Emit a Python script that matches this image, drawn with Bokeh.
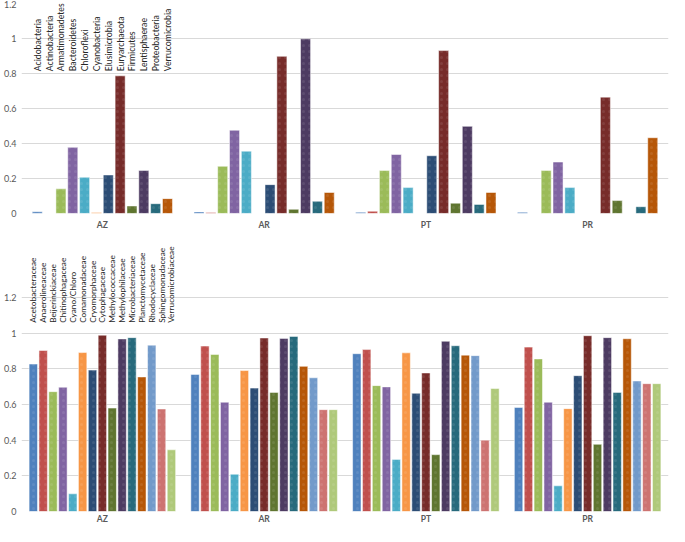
from math import pi
from bokeh.plotting import figure
from bokeh.layouts import column
from bokeh.models import ColumnDataSource, FactorRange, Range1d, FixedTicker, NumeralTickFormatter
from bokeh.transform import dodge
from bokeh.core.properties import value
from bokeh.embed import file_html
from bokeh.resources import INLINE

sites = ["AZ", "AR", "PT", "PR"]

phyla = ["Acidobacteria", "Actinobacteria", "Armatimonadetes", "Bacteroidetes",
         "Chloroflexi", "Cyanobacteria", "Elusimicrobia", "Euryarchaeota",
         "Firmicutes", "Lentisphaerae", "Proteobacteria", "Verrucomicrobia"]
az_phyla = [0.010, 0.0, 0.141, 0.378, 0.207, 0.006, 0.220, 0.787, 0.043, 0.246, 0.056, 0.085]
ar_phyla = [0.009, 0.006, 0.270, 0.476, 0.356, 0.0, 0.165, 0.898, 0.024, 0.998, 0.070, 0.120]
pt_phyla = [0.007, 0.013, 0.246, 0.337, 0.148, 0.0, 0.330, 0.931, 0.059, 0.498, 0.052, 0.120]
pr_phyla = [0.007, 0.0, 0.246, 0.294, 0.148, 0.0, 0.0, 0.665, 0.074, 0.0, 0.039, 0.433]

families = ["Acetobacteraceae", "Anaerolineaceae", "Beijerinckiaceae", "Chitinophagaceae",
            "Cyano/Chloro", "Comamonadaceae", "Cryomorphaceae", "Cytophagaceae",
            "Methylococcaceae", "Methylophilaceae", "Microbacteriaceae", "Planctomycetaceae",
            "Rhodocyclaceae", "Sphingomonadaceae", "Verrucomicrobiaceae"]
az_fam = [0.827, 0.903, 0.672, 0.697, 0.099, 0.892, 0.793, 0.989, 0.580, 0.968, 0.975, 0.755, 0.933, 0.575, 0.346]
ar_fam = [0.769, 0.928, 0.881, 0.613, 0.209, 0.791, 0.692, 0.973, 0.668, 0.971, 0.982, 0.814, 0.750, 0.571, 0.571]
pt_fam = [0.885, 0.908, 0.706, 0.699, 0.292, 0.890, 0.663, 0.777, 0.319, 0.955, 0.930, 0.877, 0.874, 0.400, 0.690]
pr_fam = [0.584, 0.922, 0.856, 0.613, 0.144, 0.577, 0.762, 0.986, 0.377, 0.975, 0.668, 0.969, 0.732, 0.717, 0.717]

yticks = [0, 0.2, 0.4, 0.6, 0.8, 1, 1.2]

palette = ["#4F81BD", "#C0504D", "#9BBB59", "#8064A2", "#4BACC6", "#F79646",
           "#2C4D75", "#772C2A", "#5F7530", "#4D3B62", "#276A7C", "#B65708",
           "#729ACA", "#CD7371", "#AFC97A"]

FONT = "Lato"
W = 669


def make_chart(names, site_vals, height, y_end, border_top, border_bottom,
               slot, bar_w, label_y, label_size):
    p = figure(x_range=FactorRange(factors=sites), y_range=Range1d(0, y_end),
               width=W, height=height, output_backend="svg", toolbar_location=None,
               min_border_left=21, min_border_right=1,
               min_border_top=border_top, min_border_bottom=border_bottom)
    p.outline_line_color = None
    p.xgrid.grid_line_color = None
    p.ygrid.grid_line_color = "#D9D9D9"
    p.yaxis.ticker = FixedTicker(ticks=yticks)
    p.yaxis.formatter = NumeralTickFormatter(format="0.[0]")
    for ax in (p.xaxis[0], p.yaxis[0]):
        ax.axis_line_color = None
        ax.major_tick_line_color = None
        ax.minor_tick_line_color = None
        ax.major_tick_out = 0
        ax.major_label_text_color = "#595959"
        ax.major_label_text_font = FONT
    p.yaxis.major_label_text_font_size = "9px"
    p.yaxis.major_label_standoff = 5
    p.xaxis.major_label_text_font_size = "8.5px"
    p.xaxis.major_label_text_font_style = "bold"
    p.xaxis.major_label_standoff = 6 if border_bottom > 16 else 2

    n = len(names)
    for i, name in enumerate(names):
        off = (i - (n - 1) / 2) * slot
        src = ColumnDataSource(dict(site=sites, val=[v[i] for v in site_vals]))
        p.vbar(x=dodge("site", off, range=p.x_range), top="val", width=bar_w,
               source=src, fill_color=palette[i], line_color="white",
               line_alpha=0.5, line_width=1,
               hatch_pattern="dot", hatch_color="white", hatch_alpha=0.09,
               hatch_scale=6, hatch_weight=1)
        lsrc = ColumnDataSource(dict(site=["AZ"], t=[name], y=[label_y]))
        p.text(x=dodge("site", off, range=p.x_range), y="y", text="t", source=lsrc,
               angle=pi / 2, text_align="left", text_baseline="middle",
               text_font=value(FONT), text_font_size=label_size,
               text_color="#262626")
    return p


top = make_chart(phyla, [az_phyla, ar_phyla, pt_phyla, pr_phyla],
                 height=235, y_end=1.2, border_top=3, border_bottom=22,
                 slot=0.0732, bar_w=0.062, label_y=0.813, label_size="8.7px")
bottom = make_chart(families, [az_fam, ar_fam, pt_fam, pr_fam],
                    height=291, y_end=1.52, border_top=5, border_bottom=14,
                    slot=0.061, bar_w=0.052, label_y=1.058, label_size="8.3px")

layout = column(top, bottom, spacing=0)
open("out.html", "w").write(file_html(layout, INLINE))
